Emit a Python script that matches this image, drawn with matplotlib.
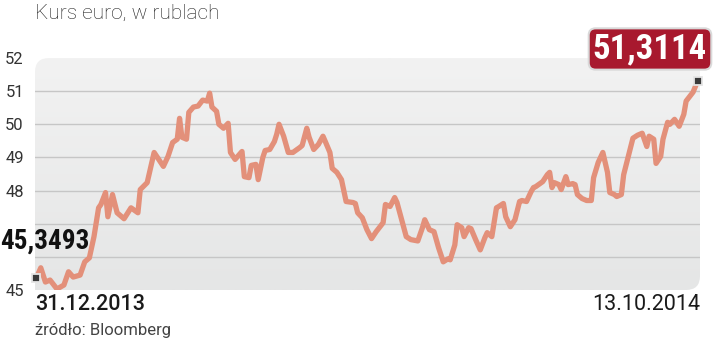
import numpy as np
import matplotlib.pyplot as plt
import matplotlib.font_manager as fm
from matplotlib.path import Path
from matplotlib.patches import PathPatch
from matplotlib.colors import LinearSegmentedColormap

# EUR/RUB, days since 31.12.2013
days = [0, 2, 4, 6, 9, 12, 14, 16, 19, 21, 23, 25, 27, 28, 30, 31, 33, 35, 38, 41,
        44, 45, 48, 51, 53, 55, 57, 59, 61, 62, 63, 65, 66, 68, 70, 72, 74, 75, 76, 78,
        79, 81, 83, 84, 86, 89, 90, 92, 93, 95, 96, 98, 99, 101, 103, 104, 105, 107, 109, 111,
        114, 115, 117, 118, 120, 122, 124, 125, 127, 128, 130, 132, 134, 137, 138, 139, 141, 143, 145, 147,
        150, 151, 153, 155, 156, 158, 160, 162, 165, 167, 168, 170, 172, 174, 176, 178, 179, 181, 182, 184,
        185, 187, 188, 190, 192, 194, 195, 197, 199, 200, 202, 203, 205, 207, 209, 210, 212, 214, 215, 216,
        219, 221, 222, 223, 224, 226, 227, 229, 230, 232, 233, 234, 236, 238, 240, 241, 243, 245, 247, 248,
        250, 251, 253, 254, 256, 258, 260, 262, 264, 265, 267, 268, 270, 271, 273, 274, 276, 278, 280, 281,
        283, 284, 286]
kurs = [45.3493, 45.67, 45.24, 45.30, 45.03, 45.15, 45.55, 45.39, 45.45, 45.85, 45.97, 46.61, 47.48, 47.58, 47.94, 47.21, 47.88, 47.33, 47.15, 47.48,
        47.33, 48.03, 48.24, 49.15, 48.94, 48.73, 49.03, 49.45, 49.55, 50.18, 49.61, 49.55, 50.36, 50.52, 50.55, 50.73, 50.70, 50.94, 50.52, 50.39,
        50.00, 49.88, 50.03, 49.15, 48.94, 49.18, 48.42, 48.39, 48.76, 48.79, 48.33, 49.00, 49.21, 49.24, 49.48, 49.70, 50.00, 49.64, 49.15, 49.15,
        49.30, 49.36, 49.88, 49.61, 49.24, 49.39, 49.64, 49.48, 49.15, 48.67, 48.55, 48.33, 47.67, 47.64, 47.61, 47.33, 47.18, 46.82, 46.55, 46.76,
        47.03, 47.58, 47.52, 47.79, 47.64, 47.12, 46.61, 46.52, 46.48, 46.88, 47.12, 46.82, 46.76, 46.27, 45.85, 45.94, 45.91, 46.36, 46.97, 46.88,
        46.61, 46.88, 46.85, 46.52, 46.21, 46.58, 46.73, 46.61, 47.48, 47.52, 47.61, 47.21, 46.91, 47.12, 47.67, 47.70, 47.67, 47.97, 48.09, 48.12,
        48.27, 48.48, 48.55, 48.09, 48.24, 48.18, 48.03, 48.42, 48.18, 48.21, 48.18, 47.88, 47.76, 47.70, 47.70, 48.39, 48.85, 49.15, 48.55, 47.94,
        47.88, 47.82, 47.88, 48.48, 49.03, 49.58, 49.67, 49.73, 49.33, 49.64, 49.55, 48.82, 49.03, 49.55, 50.06, 50.00, 50.15, 49.94, 50.30, 50.70,
        50.88, 50.97, 51.3114]
yticks = [45, 48, 49, 50, 51, 52]
grid_levels = [46, 47, 48, 49, 50, 51]
start_label = '31.12.2013'
end_label = '13.10.2014'

# narrow face for the big value labels, if one is installed
installed = {f.name for f in fm.fontManager.ttflist}
narrow = 'DejaVu Sans'
k = 0.8
for cand in ['Liberation Sans Narrow', 'Roboto Condensed', 'Open Sans Condensed']:
    if cand in installed:
        narrow, k = cand, 1.0
        break
plt.rcParams['font.family'] = ['Roboto', 'DejaVu Sans']

fig = plt.figure(figsize=(7.2, 3.45), dpi=100)
ax = fig.add_axes([35 / 720, 55 / 345, 665 / 720, 232 / 345])
ax.set_xlim(-0.5, 287)
ax.set_ylim(45, 52)
for s in ax.spines.values():
    s.set_visible(False)
ax.set_xticks([])
ax.set_yticks(yticks)
ax.set_yticklabels([str(t) for t in yticks], fontsize=12, color='#333333')
ax.tick_params(axis='y', length=0, pad=8)
ax.patch.set_visible(False)

# panel with rounded top-left and bottom-right corners
rx, ry = 14 / 665, 14 / 232
verts = [(rx, 1), (1, 1), (1, ry), (1, 0), (1 - rx, 0), (0, 0), (0, 1 - ry), (0, 1), (rx, 1), (rx, 1)]
codes = [Path.MOVETO, Path.LINETO, Path.LINETO, Path.CURVE3, Path.CURVE3,
         Path.LINETO, Path.LINETO, Path.CURVE3, Path.CURVE3, Path.CLOSEPOLY]
panel = PathPatch(Path(verts, codes), transform=ax.transAxes, facecolor='none', edgecolor='none')
ax.add_patch(panel)
grad = np.linspace(0, 1, 100).reshape(-1, 1)
img = ax.imshow(grad, extent=[0, 1, 0, 1], transform=ax.transAxes, aspect='auto',
                cmap=LinearSegmentedColormap.from_list('g', ['#f2f2f2', '#e5e6e6']),
                origin='upper', zorder=0)
img.set_clip_path(panel)

for g in grid_levels:
    ax.axhline(g, color='#c6c6c6', lw=1.0, zorder=1)

ax.plot(days, kurs, color='#e3907a', lw=3.8, solid_joinstyle='round', solid_capstyle='round', zorder=3)
ax.plot([days[0], days[-1]], [kurs[0], kurs[-1]], ls='none', marker='s', ms=6,
        mfc='#3a3a3a', mec='#e4e4e4', mew=1.3, zorder=5, clip_on=False)

# value labels
ax.annotate(f'{kurs[0]:.4f}'.replace('.', ','), xy=(0, 46.25), xycoords=('figure pixels', 'data'),
            fontsize=19.5 * k, fontweight='bold', color='#111111', ha='left', va='baseline',
            family=[narrow, 'DejaVu Sans'], annotation_clip=False, zorder=6)
fig.text(650 / 720, 1 - 49 / 345, f'{kurs[-1]:.4f}'.replace('.', ','),
         fontsize=25 * k, fontweight='bold', color='white', ha='center', va='center',
         family=[narrow, 'DejaVu Sans'],
         bbox=dict(boxstyle='round,pad=0.12,rounding_size=0.2', fc='#a8192e', ec='#d9d9d9', lw=1.5))

fig.text(35 / 720, 1 - 304 / 345, start_label, fontsize=15.5, color='#1a1a1a',
         fontweight='medium', ha='left', va='center')
fig.text(700 / 720, 1 - 304 / 345, end_label, fontsize=15.5, color='#1a1a1a', ha='right', va='center')
fig.text(35 / 720, 1 - 331 / 345, 'źródło: Bloomberg', fontsize=12, color='#444444', ha='left', va='center')
fig.text(35 / 720, 1 - 13 / 345, 'Kurs euro, w rublach', fontsize=15, color='#1e1e1e',
         fontweight='light', ha='left', va='center')

fig.savefig('out.png', dpi=100)
